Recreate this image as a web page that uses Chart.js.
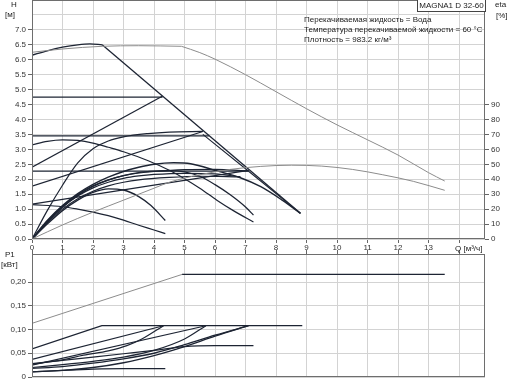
<!DOCTYPE html>
<html><head><meta charset="utf-8">
<script src="https://cdn.jsdelivr.net/npm/chart.js"></script>
<style>
html,body{margin:0;padding:0;background:#fff;}
#wrap{position:relative;width:508px;height:384px;overflow:hidden;font-family:"Liberation Sans",Arial,sans-serif;color:#222;}
canvas{position:absolute;left:0;}
.t{position:absolute;font-size:8px;line-height:9px;white-space:nowrap;}
#title{position:absolute;left:417px;top:-1px;width:67px;height:11px;border:1px solid #444;font-size:8px;line-height:12px;text-align:center;background:#fff;}
</style></head>
<body><div id="wrap">
<canvas id="top" width="508" height="252" style="top:0"></canvas>
<canvas id="bot" width="508" height="140" style="top:244px"></canvas>
<div class="t" style="left:11px;top:0">H</div>
<div class="t" style="left:5px;top:10px">[м]</div>
<div class="t" style="left:495px;top:0">eta</div>
<div class="t" style="left:496px;top:11px">[%]</div>
<div id="title">MAGNA1 D 32-60</div>
<div class="t" style="left:304px;top:15px">Перекачиваемая жидкость = Вода</div>
<div class="t" style="left:304px;top:25px">Температура перекачиваемой жидкости = 60 °C</div>
<div class="t" style="left:304px;top:35px">Плотность = 983.2 кг/м³</div>
<div class="t" style="left:455px;top:244px">Q [м³/ч]</div>
<div class="t" style="left:5px;top:250px">P1</div>
<div class="t" style="left:1px;top:260px">[кВт]</div>
</div>
<script>
// ---- axis ticks ----
const qTicks = [0,1,2,3,4,5,6,7,8,9,10,11,12,13,14];
const hTicks = [0,0.5,1,1.5,2,2.5,3,3.5,4,4.5,5,5.5,6,6.5,7,7.5];
const etaTicks = [0,10,20,30,40,50,60,70,80,90];
const pTicks = [0,0.05,0.1,0.15,0.2];

// ---- H curves (Q in m3/h, H in m) ----
const qTwinMaxA = [0,1,2.3,3.5,4.9];
const hTwinMaxA = [6.25,6.36,6.45,6.47,6.45];
const qTwinMaxB = [4.9,5.5,6,7,8,9,10,11,12,13,13.53];
const hTwinMaxB = [6.45,6.24,6.02,5.5,4.93,4.36,3.82,3.32,2.81,2.22,1.94];
const qTwinEta = [0,1,2,3,4,4.53,5.5,6.5,7.5,8.5,9.5,10.5,11.5,12.5,13.53];
const hTwinEta = [0,0.47,0.9,1.3,1.7,1.91,2.15,2.33,2.43,2.47,2.44,2.33,2.15,1.93,1.63];
const qMaxA = [0,0.5,1,1.5,1.9,2.3];
const hMaxA = [6.15,6.3,6.42,6.5,6.53,6.5];
const qMaxB = [2.3,8.8];
const hMaxB = [6.5,0.86];
const qMax2 = [5.6,7.06,8.8];
const hMax2 = [3.5,2.3,0.86];
const qCpHigh = [0,4.28], hCpHigh = [4.75,4.75];
const qPpHigh = [0,4.27], hPpHigh = [2.4,4.78];
const qCpMid = [0,5.8], hCpMid = [3.45,3.45];
const qPpMid = [0,5.6], hPpMid = [1.77,3.6];
const qCpLow = [0,7.1], hCpLow = [2.27,2.27];
const qPpLow = [0,7.1], hPpLow = [1.17,2.3];
const qSpeedMid = [0,0.5,1,1.5,2,2.5,3,3.81,4.5,5,5.5,6.06,6.6,7.26];
const hSpeedMid = [3.15,3.27,3.32,3.3,3.21,3.07,2.92,2.62,2.3,2.02,1.7,1.3,0.95,0.57];
const qMin = [0,1,1.5,2,2.5,3,3.5,4,4.37];
const hMin = [1.15,1.08,1.0,0.9,0.78,0.63,0.46,0.3,0.18];
const qSteep = [0,0.5,1,1.5,2,2.5,3,3.8,4.5,5.6];
const hSteep = [0,0.95,1.8,2.55,3.02,3.28,3.42,3.53,3.58,3.6];
const qEta1 = [0,0.5,1,1.5,2,2.5,3,3.5,3.9,4.37];
const hEta1 = [0,0.5,0.95,1.3,1.56,1.68,1.64,1.42,1.12,0.62];
const qEta2 = [0,0.5,1,1.5,2,2.5,3,3.5,4,4.5,5,5.5,6,6.5,7,7.26];
const hEta2 = [0,0.56,1.06,1.46,1.76,1.97,2.12,2.22,2.27,2.29,2.25,2.1,1.82,1.48,1.07,0.8];
const qEta3 = [0,0.5,1,1.5,2,2.5,3,3.5,4,4.64,5.2,6.06,6.83,7.5,8.2,8.8];
const hEta3 = [0,0.62,1.12,1.52,1.83,2.07,2.26,2.4,2.5,2.55,2.52,2.28,2.05,1.75,1.3,0.86];
const qEta4 = [0,0.5,1,1.5,2,2.5,3,3.5,4,5,6,7.1];
const hEta4 = [0,0.6,1.1,1.49,1.78,1.98,2.12,2.21,2.26,2.32,2.33,2.28];
const qEta5 = [0,0.5,1,1.5,2,2.5,3,3.5,4,5,6,6.83];
const hEta5 = [0,0.57,1.07,1.44,1.71,1.9,2.03,2.11,2.16,2.2,2.18,2.08];
const qEta6 = [0,0.5,1,1.5,2,2.5,3,3.5,4.5,5.5,6.83];
const hEta6 = [0,0.54,1.0,1.35,1.6,1.78,1.9,1.98,2.06,2.1,2.08];

// ---- P1 curves (kW) ----
const qP1TwinRise = [0,4.92], pP1TwinRise = [0.113,0.216];
const qP1TwinFlat = [4.92,13.53], pP1TwinFlat = [0.216,0.216];
const qP1Max = [0,2.29,8.86], pP1Max = [0.059,0.108,0.108];
const qP1CpHigh = [0,4.31], pP1CpHigh = [0.037,0.108];
const qP1PpHigh = [0,1,1.69,2.5,3.11,3.6,4.31];
const pP1PpHigh = [0.027,0.036,0.046,0.055,0.066,0.08,0.108];
const qP1CpMid = [0,5.7], pP1CpMid = [0.025,0.108];
const qP1PpMid = [0,1,2,3,4,5,5.7];
const pP1PpMid = [0.02,0.026,0.033,0.042,0.056,0.08,0.108];
const qP1CpLow = [0,1,2,3,4,5,6,7.1];
const pP1CpLow = [0.018,0.022,0.029,0.038,0.05,0.068,0.088,0.108];
const qP1PpLow = [0,1,2,3,4,5,6,7.1];
const pP1PpLow = [0.011,0.014,0.02,0.03,0.045,0.064,0.086,0.108];
const qP1SpeedMid = [0,1,2,3,4,5,6,7.26];
const pP1SpeedMid = [0.028,0.035,0.042,0.049,0.056,0.064,0.066,0.066];
const qP1Min = [0,1,2,3,4.37], pP1Min = [0.011,0.014,0.0165,0.0175,0.0175];

const BLACK = '#1d2433', GRAY = '#8c8c8c', GRID = '#d3d3d3', TICKC = '#666', TXT = '#333';
const FONT = {family:'"Liberation Sans", Arial, sans-serif', size:8};

function pts(q, v){ return q.map((x,i)=>({x:x, y:v[i]})); }
function ds(q, v, color, w, straight){
  return {data:pts(q,v), borderColor:color, borderWidth:w, pointRadius:0, fill:false,
          cubicInterpolationMode: straight ? 'default' : 'monotone', tension: straight ? 0 : 0.4};
}
const frame = {id:'frame', afterDraw(c){
  const {ctx, chartArea:a} = c; ctx.save(); ctx.strokeStyle='#6e6e6e'; ctx.lineWidth=1;
  ctx.strokeRect(Math.round(a.left)+0.5, Math.round(a.top)+0.5, Math.round(a.right-a.left)-1, Math.round(a.bottom-a.top)-1);
  ctx.restore();
}};
function fixW(w){ return s=>{ s.width=w; s.paddingTop=0; s.paddingBottom=0; s.paddingLeft=0; s.paddingRight=0; }; }
function fixH(h){ return s=>{ s.height=h; s.paddingTop=0; s.paddingBottom=0; s.paddingLeft=0; s.paddingRight=0; }; }
function setTicks(arr){ return s=>{ s.ticks = arr.map(v=>({value:v})); }; }

Chart.defaults.font.family = FONT.family;
Chart.defaults.color = TXT;

const topSets = [
  ds(qTwinMaxA,hTwinMaxA,GRAY,1), ds(qTwinMaxB,hTwinMaxB,GRAY,1), ds(qTwinEta,hTwinEta,GRAY,1),
  ds(qMaxA,hMaxA,BLACK,1.3), ds(qMaxB,hMaxB,BLACK,1.3,true), ds(qMax2,hMax2,BLACK,1.1,true),
  ds(qCpHigh,hCpHigh,BLACK,1.2,true), ds(qPpHigh,hPpHigh,BLACK,1.2,true),
  ds(qCpMid,hCpMid,BLACK,1.2,true), ds(qPpMid,hPpMid,BLACK,1.2,true),
  ds(qCpLow,hCpLow,BLACK,1.2,true), ds(qPpLow,hPpLow,BLACK,1.2,true),
  ds(qSpeedMid,hSpeedMid,BLACK,1.2), ds(qMin,hMin,BLACK,1.2),
  ds(qSteep,hSteep,BLACK,1.2),
  ds(qEta1,hEta1,BLACK,1.3), ds(qEta2,hEta2,BLACK,1.3), ds(qEta3,hEta3,BLACK,1.4),
  ds(qEta4,hEta4,BLACK,1.2), ds(qEta5,hEta5,BLACK,1.2), ds(qEta6,hEta6,BLACK,1.2)
];

new Chart(document.getElementById('top'), {
  type:'line',
  data:{datasets:topSets},
  plugins:[frame],
  options:{
    responsive:false, animation:false, devicePixelRatio:1,
    layout:{padding:{left:0,right:0,top:0,bottom:0}},
    plugins:{legend:{display:false}, tooltip:{enabled:false}},
    scales:{
      x:{type:'linear', min:0, max:14.85, afterBuildTicks:setTicks(qTicks), afterFit:fixH(13),
         grid:{color:GRID, tickLength:4, tickColor:TICKC}, border:{display:false},
         ticks:{font:FONT, color:TXT, padding:0, maxRotation:0, autoSkip:false,
                callback:v=> v<=13 ? String(v) : ''}},
      y:{type:'linear', position:'left', min:0, max:8, afterBuildTicks:setTicks(hTicks), afterFit:fixW(32),
         grid:{color:GRID, tickLength:4, tickColor:c=> (c.tick && c.tick.value>7) ? 'rgba(0,0,0,0)' : TICKC},
         border:{display:false},
         ticks:{font:FONT, color:TXT, padding:2, autoSkip:false, callback:v=> v<=7 ? v.toFixed(1) : ''}},
      eta:{type:'linear', position:'right', min:0, max:160, afterBuildTicks:setTicks(etaTicks), afterFit:fixW(23),
         grid:{drawOnChartArea:false, tickLength:4, tickColor:TICKC}, border:{display:false},
         ticks:{font:FONT, color:TXT, padding:2, autoSkip:false, callback:v=> String(v)}}
    }
  }
});

const botSets = [
  ds(qP1TwinRise,pP1TwinRise,GRAY,1,true), ds(qP1TwinFlat,pP1TwinFlat,BLACK,1.2,true),
  ds(qP1Max,pP1Max,BLACK,1.3,true), ds(qP1CpHigh,pP1CpHigh,BLACK,1.2,true), ds(qP1PpHigh,pP1PpHigh,BLACK,1.2),
  ds(qP1CpMid,pP1CpMid,BLACK,1.2,true), ds(qP1PpMid,pP1PpMid,BLACK,1.2),
  ds(qP1CpLow,pP1CpLow,BLACK,1.3), ds(qP1PpLow,pP1PpLow,BLACK,1.3),
  ds(qP1SpeedMid,pP1SpeedMid,BLACK,1.2), ds(qP1Min,pP1Min,BLACK,1.2)
];

new Chart(document.getElementById('bot'), {
  type:'line',
  data:{datasets:botSets},
  plugins:[frame],
  options:{
    responsive:false, animation:false, devicePixelRatio:1,
    layout:{padding:{left:0,right:23,top:0,bottom:7}},
    plugins:{legend:{display:false}, tooltip:{enabled:false}},
    scales:{
      x:{type:'linear', position:'top', min:0, max:14.85, afterBuildTicks:setTicks(qTicks), afterFit:fixH(10),
         grid:{color:GRID, tickLength:4, tickColor:TICKC}, border:{display:false},
         ticks:{font:FONT, color:TXT, padding:0, maxRotation:0, autoSkip:false, callback:()=>''}},
      y:{type:'linear', position:'left', min:0, max:0.259, afterBuildTicks:setTicks(pTicks), afterFit:fixW(32),
         grid:{color:GRID, tickLength:4, tickColor:TICKC}, border:{display:false},
         ticks:{font:FONT, color:TXT, padding:2, autoSkip:false,
                callback:v=> v===0 ? '0' : v.toFixed(2).replace('.',',')}}
    }
  }
});
</script>
</body></html>
